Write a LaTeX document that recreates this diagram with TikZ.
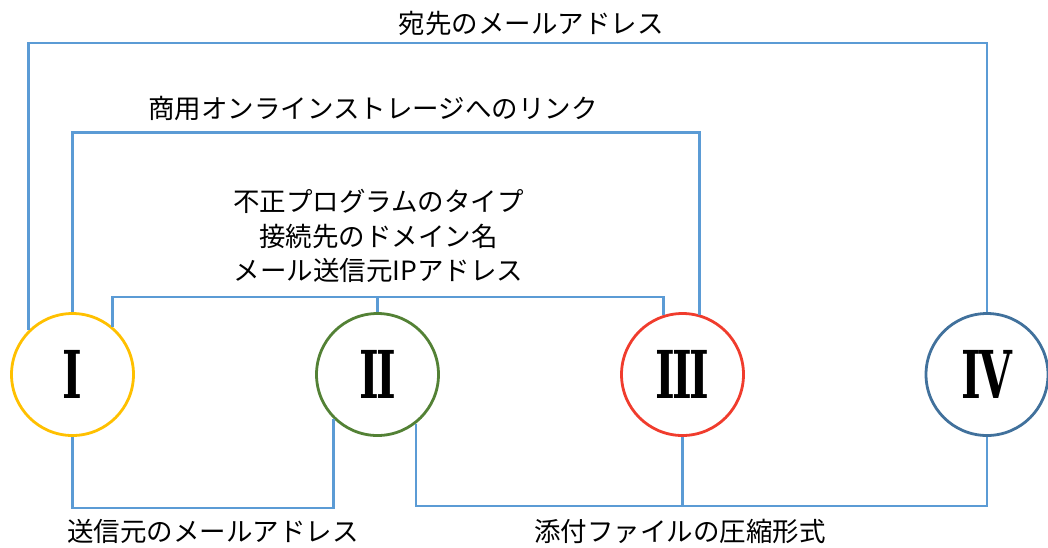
\documentclass[tikz,border=0pt]{standalone}
\usepackage{fontspec}
\usepackage{graphicx}
\newfontfamily\jp{Noto Sans CJK JP}
\newfontfamily\rmnfont{DejaVu Serif}
\definecolor{lnblue}{HTML}{5B9BD5}
\definecolor{cgold}{HTML}{FFC000}
\definecolor{cgreen}{HTML}{538135}
\definecolor{cred}{HTML}{F03C2D}
\definecolor{cblue}{HTML}{41719C}
\newcommand{\rn}[1]{\scalebox{0.64}[1]{#1}}
\begin{document}
\begin{tikzpicture}[x=1pt,y=-1pt,
  conn/.style={draw=lnblue,line width=2.8pt},
  lbl/.style={font=\jp\fontsize{26.5}{34.5}\selectfont,inner sep=0pt,align=center},
  ring/.style={circle,draw,line width=2.8pt,minimum size=122pt,inner sep=0pt,
    font=\rmnfont\fontsize{66}{66}\selectfont\bfseries}]
\useasboundingbox (0,0) rectangle (1048,547);

\node[ring,draw=cgold]  (c1) at (72.5,374.5) {\rn{I}};
\node[ring,draw=cgreen] (c2) at (377.5,374.5) {\rn{I\kern-0.06em I}};
\node[ring,draw=cred]   (c3) at (682.5,374.5) {\rn{I\kern-0.06em I\kern-0.06em I}};
\node[ring,draw=cblue]  (c4) at (987,374.5) {\rn{I\kern-0.04em V}};

\coordinate (top1) at (0,43);
\coordinate (top2) at (0,132.5);
\coordinate (top3) at (0,297);
\coordinate (bot1) at (0,508);
\coordinate (bot2) at (0,506);

\draw[conn] (c1.135) -- (c1.135 |- top1) -| (c4.north);
\draw[conn] (c1.north) -- (c1.north |- top2) -| (c3.74);
\draw[conn] (c1.50) -- (c1.50 |- top3) -| (c3.108);
\draw[conn] (c2.north) -- (c2.north |- top3);
\draw[conn] (c1.south) -- (c1.south |- bot1) -| (c2.225);
\draw[conn] (c2.-52) -- (c2.-52 |- bot2) -| (c4.south);
\draw[conn] (c3.south) -- (c3.south |- bot2);

\node[lbl] (l1) at (531,23) {宛先のメールアドレス};
\node[lbl] (l2) at (373,108) {商用オンラインストレージへのリンク};
\node[lbl] (l3) at (378.5,236) {不正プログラムのタイプ\\接続先のドメイン名\\メール送信元IPアドレス};
\node[lbl] (l4) at (213,531) {送信元のメールアドレス};
\node[lbl] (l5) at (680,531) {添付ファイルの圧縮形式};
\end{tikzpicture}
\end{document}
